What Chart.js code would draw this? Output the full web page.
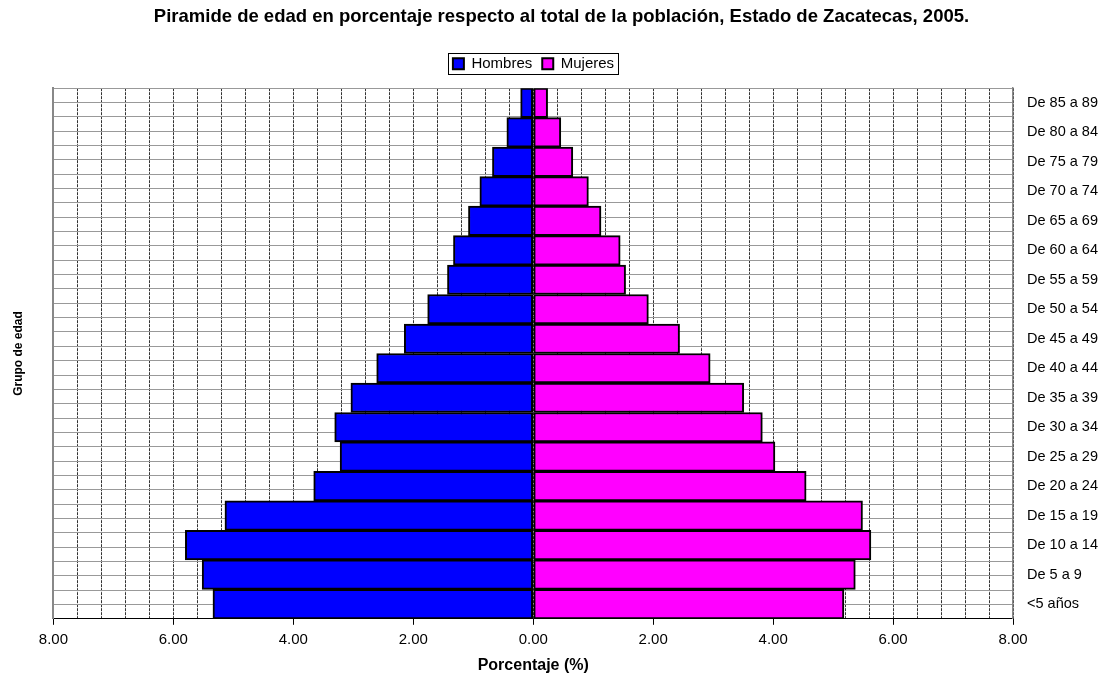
<!DOCTYPE html>
<html>
<head>
<meta charset="utf-8">
<script src="https://cdn.jsdelivr.net/npm/chart.js@4"></script>
<style>
  html, body { margin: 0; padding: 0; background: #fff; }
  #wrap { width: 1116px; height: 677px; }
</style>
</head>
<body>
<div id="wrap"><canvas id="piramide"></canvas></div>
<script>
const grupos = ["<5 años", "De 5 a 9", "De 10 a 14", "De 15 a 19", "De 20 a 24", "De 25 a 29",
  "De 30 a 34", "De 35 a 39", "De 40 a 44", "De 45 a 49", "De 50 a 54", "De 55 a 59",
  "De 60 a 64", "De 65 a 69", "De 70 a 74", "De 75 a 79", "De 80 a 84", "De 85 a 89"];
const hombres = [5.34, 5.52, 5.80, 5.14, 3.66, 3.22, 3.31, 3.04, 2.61, 2.15, 1.76, 1.43, 1.33, 1.08, 0.89, 0.68, 0.44, 0.21];
const mujeres = [5.18, 5.37, 5.63, 5.49, 4.55, 4.03, 3.82, 3.51, 2.95, 2.44, 1.92, 1.54, 1.45, 1.13, 0.92, 0.66, 0.46, 0.24];
const xTicks = [-8, -6, -4, -2, 0, 2, 4, 6, 8];

const FONT = 'Arial, "Liberation Sans", sans-serif';
const isMajor = v => xTicks.some(t => Math.abs(t - v) < 1e-6);

// legend centred over the plot and boxed, like the original spreadsheet chart
const legendBox = {
  id: 'legendBox',
  afterUpdate(chart) {
    const lg = chart.legend;
    if (!lg || !lg.legendHitBoxes) return;
    const dx = Math.round((chart.chartArea.left + chart.chartArea.right) / 2 - (lg.left + lg.right) / 2);
    lg.left += dx;
    lg.right += dx;
    lg.legendHitBoxes.forEach(b => { b.left += dx; });
  },
  afterDraw(chart) {
    const boxes = chart.legend.legendHitBoxes;
    if (!boxes || !boxes.length) return;
    const left = Math.min(...boxes.map(b => b.left)) - 5;
    const right = Math.max(...boxes.map(b => b.left + b.width)) + 4;
    const top = Math.min(...boxes.map(b => b.top)) - 3;
    const bottom = Math.max(...boxes.map(b => b.top + b.height)) + 3;
    const c = chart.ctx;
    c.save();
    c.strokeStyle = '#000';
    c.lineWidth = 1;
    c.strokeRect(Math.round(left) + 0.5, Math.round(top) + 0.5, Math.round(right - left), Math.round(bottom - top));
    c.restore();
  }
};

new Chart(document.getElementById('piramide'), {
  type: 'bar',
  data: {
    labels: grupos,
    datasets: [
      { label: 'Hombres', data: hombres.map(v => -v), backgroundColor: '#0000ff', borderColor: '#000', borderWidth: 2, borderSkipped: false, yAxisID: 'y' },
      { label: 'Mujeres', data: mujeres, backgroundColor: '#ff00ff', borderColor: '#000', borderWidth: 2, borderSkipped: false, yAxisID: 'y' }
    ]
  },
  options: {
    indexAxis: 'y',
    responsive: true,
    maintainAspectRatio: false,
    animation: false,
    barPercentage: 1,
    categoryPercentage: 1,
    layout: { padding: { left: 11, right: 4, top: 0, bottom: 2 } },
    plugins: {
      title: {
        display: true,
        text: 'Piramide de edad en porcentaje respecto al total de la población, Estado de Zacatecas, 2005.',
        color: '#000',
        font: { family: FONT, size: 18.5, weight: 'bold' },
        padding: { top: 6, bottom: 18 }
      },
      legend: {
        position: 'top',
        labels: {
          color: '#000',
          font: { family: FONT, size: 15 },
          boxWidth: 11,
          boxHeight: 11,
          padding: 10
        }
      },
      tooltip: { enabled: false }
    },
    scales: {
      x: {
        type: 'linear',
        min: -8,
        max: 8,
        stacked: true,
        ticks: {
          stepSize: 0.4,
          autoSkip: false,
          maxRotation: 0,
          color: '#000',
          font: { family: FONT, size: 15 },
          padding: 6,
          callback: v => isMajor(v) ? Math.abs(v).toFixed(2) : ''
        },
        grid: {
          color: '#333',
          lineWidth: 1,
          tickLength: 6,
          tickColor: ctx => (ctx.tick && isMajor(ctx.tick.value)) ? '#000' : 'rgba(0,0,0,0)'
        },
        border: { display: true, color: '#000', width: 1, dash: [3, 1] },
        title: {
          display: true,
          text: 'Porcentaje (%)',
          color: '#000',
          font: { family: FONT, size: 16, weight: 'bold' },
          padding: { top: 1, bottom: 0 }
        }
      },
      // empty top axis, only keeps a gap between legend and plot
      xTop: {
        type: 'linear',
        position: 'top',
        display: true,
        min: -8,
        max: 8,
        ticks: { display: false },
        grid: { display: false, drawTicks: true, tickLength: 7 },
        border: { display: false }
      },
      y: {
        type: 'category',
        position: 'right',
        stacked: true,
        reverse: true,
        grid: { display: false, drawTicks: false },
        border: { display: true, color: '#888', width: 1.5 },
        ticks: {
          color: '#000',
          font: { family: FONT, size: 14.5 },
          padding: 14
        }
      },
      y2: {
        type: 'linear',
        position: 'left',
        min: 0,
        max: 36,
        ticks: { display: false, stepSize: 1 },
        grid: { color: '#999', lineWidth: 1, drawTicks: false },
        border: { display: true, color: '#888', width: 2 },
        title: {
          display: true,
          text: 'Grupo de edad',
          color: '#000',
          font: { family: FONT, size: 12, weight: 'bold' },
          padding: { top: 0, bottom: 28 }
        }
      }
    }
  },
  plugins: [legendBox]
});
</script>
</body>
</html>
